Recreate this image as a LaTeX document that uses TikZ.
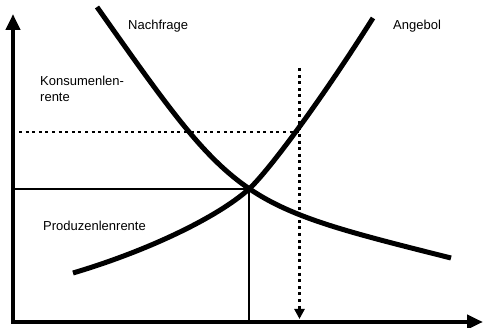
\documentclass[tikz,border=0pt]{standalone}
\usepackage{fontspec}
\setmainfont{Liberation Sans}
\usetikzlibrary{arrows.meta}
\tikzset{
  axis/.style={line width=4pt, {Triangle[width=14pt,length=16pt]}-{Triangle[width=14pt,length=16pt]}},
  curve/.style={line width=5pt},
  thinline/.style={line width=1.6pt},
  dotline/.style={line width=2.6pt, dash pattern=on 3pt off 3.6pt},
  label/.style={inner sep=0pt, font=\fontsize{13}{15.7}\selectfont}
}
\begin{document}
\begin{tikzpicture}[x=1pt, y=-1pt]
    \useasboundingbox (0, 0) rectangle (483, 328);

    \coordinate (ytip) at (13, 14);
    \coordinate (xtip) at (483, 322);
    \coordinate (eq) at (249, 189);
    \coordinate (eqy) at (15, 189);
    \coordinate (eqx) at (249, 321);
    \coordinate (hi) at (299.5, 132);
    \coordinate (hiy) at (19, 132);
    \coordinate (hitop) at (299.5, 68);
    \coordinate (hix) at (299.5, 319);

    \draw [axis] (ytip) |- (xtip);

    \draw [thinline] (eqy) -- (eq) -- (eqx);
    \draw [dotline] (hiy) -- (hi);
    \draw [dotline, -{Triangle[width=10pt,length=10pt]}] (hitop) -- (hix);

    % Nachfrage
    \draw [curve] (97, 7) .. controls (236, 204) and (236, 204) .. (451, 258);
    % Angebot
    \draw [curve] (73, 273) .. controls (146.9, 251.1) and (217.3, 217.5) .. (eq)
      .. controls (265.9, 173.8) and (316.5, 107.4) .. (373, 18);

    \node [label, anchor=base west] (nachfrage) at (128, 30) {Nachfrage};
    \node [label, anchor=base west] (angebot) at (393, 30) {Angebol};
    \node [label, anchor=base west] (konsument) at (40, 86) {Konsumenlen-};
    \node [label, anchor=base west] (konsument2) at (40, 101.7) {rente};
    \node [label, anchor=base west] (produzent) at (43, 231) {Produzenlenrente};
  \end{tikzpicture}
\end{document}
